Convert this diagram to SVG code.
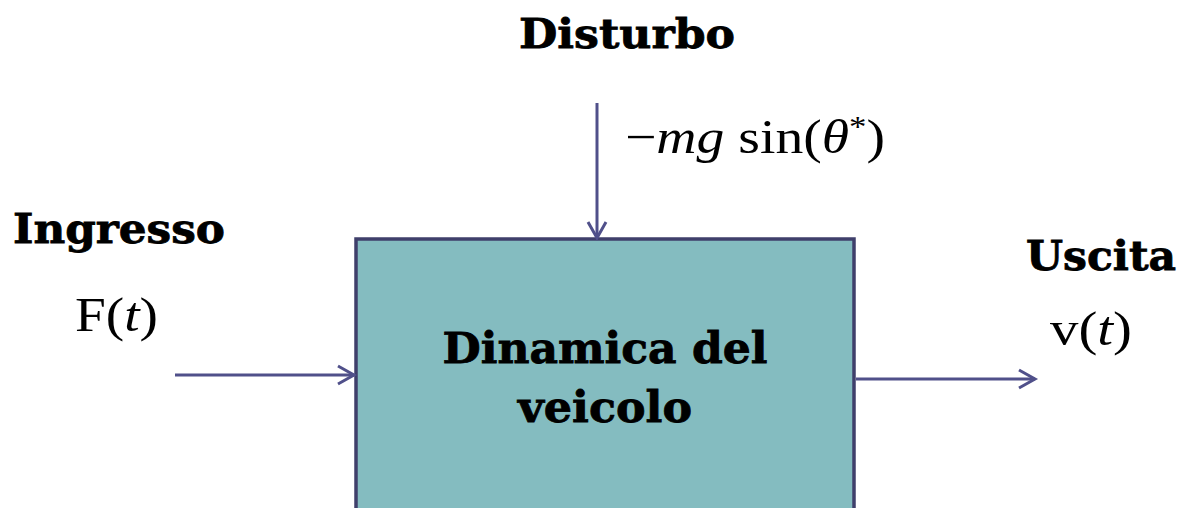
<svg xmlns="http://www.w3.org/2000/svg" width="1181" height="508" viewBox="0 0 1181 508">
<style>
.lbl{font-family:"DejaVu Serif","Liberation Serif",serif;font-weight:bold;fill:#000;stroke:#000;stroke-width:0.8}
.math{font-family:"Liberation Serif","DejaVu Serif",serif;fill:#000;font-size:48px}
.it{font-style:italic}
.conn{stroke:#50508a;stroke-width:3;fill:none}
</style>
<defs>
<marker id="ah" markerWidth="24" markerHeight="24" refX="20" refY="12" orient="auto" markerUnits="userSpaceOnUse">
<path d="M4,3 L20,12 L4,21" fill="none" stroke="#50508a" stroke-width="3"/>
</marker>
</defs>
<rect width="1181" height="508" fill="#fff"/>
<g id="block">
<rect x="356" y="239" width="498" height="290" fill="#84bcc0" stroke="#3f3f6b" stroke-width="3.5"/>
<text class="lbl" font-size="42" x="605" y="363" text-anchor="middle" textLength="325" lengthAdjust="spacingAndGlyphs">Dinamica del</text>
<text class="lbl" font-size="42" x="605" y="422" text-anchor="middle" textLength="174" lengthAdjust="spacingAndGlyphs">veicolo</text>
</g>
<g id="disturbo">
<text class="lbl" font-size="41" x="519" y="48" textLength="216" lengthAdjust="spacingAndGlyphs">Disturbo</text>
<text class="math" x="625" y="153" textLength="260" lengthAdjust="spacingAndGlyphs">−<tspan class="it">mg</tspan> sin(<tspan class="it">θ</tspan><tspan font-size="30" dy="-17">*</tspan><tspan dy="17">)</tspan></text>
</g>
<g id="ingresso">
<text class="lbl" font-size="41" x="13" y="243" textLength="212" lengthAdjust="spacingAndGlyphs">Ingresso</text>
<text class="math" x="75" y="331" textLength="83" lengthAdjust="spacingAndGlyphs">F(<tspan class="it">t</tspan>)</text>
</g>
<g id="uscita">
<text class="lbl" font-size="41" x="1026" y="270" textLength="150" lengthAdjust="spacingAndGlyphs">Uscita</text>
<text class="math" x="1050" y="345" textLength="82" lengthAdjust="spacingAndGlyphs">v(<tspan class="it">t</tspan>)</text>
</g>
<g id="connectors">
<line class="conn" x1="597" y1="103" x2="597" y2="238" marker-end="url(#ah)"/>
<line class="conn" x1="175" y1="375" x2="354" y2="375" marker-end="url(#ah)"/>
<line class="conn" x1="856" y1="379" x2="1035" y2="379" marker-end="url(#ah)"/>
</g>
</svg>
